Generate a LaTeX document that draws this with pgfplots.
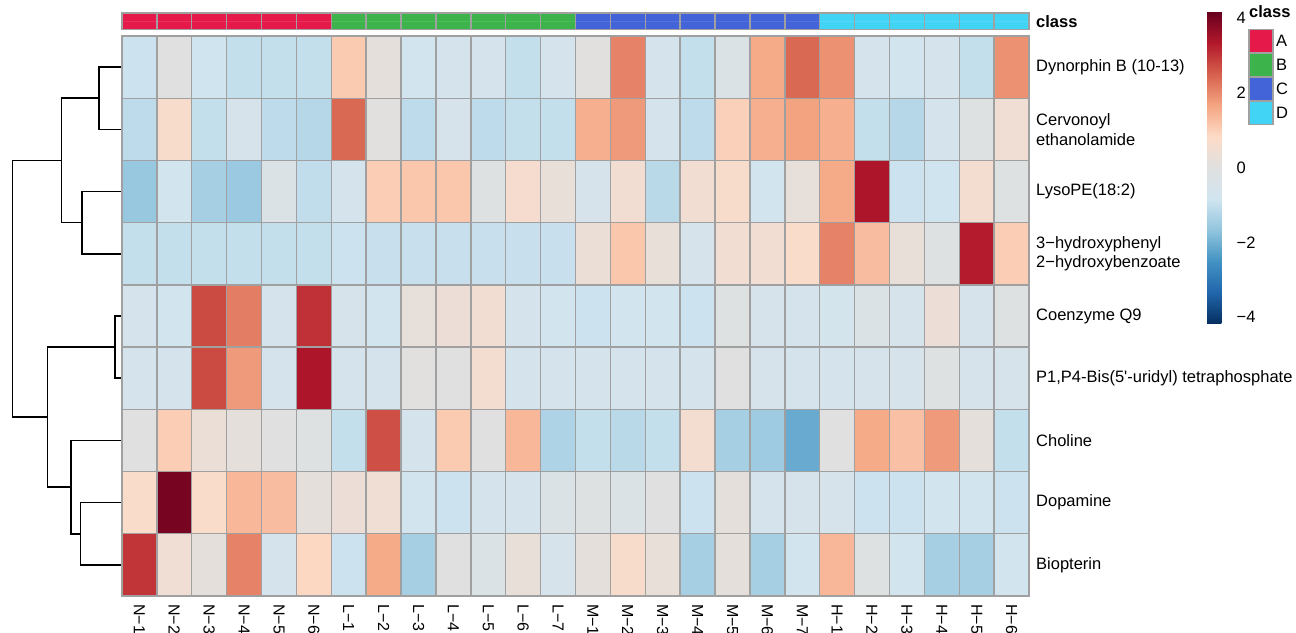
\documentclass[border=0pt]{standalone}
\usepackage{fontspec}
\setmainfont{Liberation Sans}
\usepackage{pgfplots}
\pgfplotsset{compat=1.18}
\definecolor{gridgray}{HTML}{A0A0A0}
\newcommand\lbl{\fontsize{16.5}{19.5}\selectfont}
\newcommand\clbl{\fontsize{16}{18}\selectfont}
\pgfplotsset{
 colormap={rdbu}{rgb255=(5,48,97) rgb255=(33,102,172) rgb255=(67,147,195) rgb255=(146,197,222) rgb255=(209,229,240) rgb255=(224,224,224) rgb255=(253,219,199) rgb255=(244,165,130) rgb255=(214,96,77) rgb255=(178,24,43) rgb255=(103,0,31)},
 colormap={classes}{rgb255=(230,25,75) rgb255=(60,180,75) rgb255=(67,99,216) rgb255=(66,212,244)},
 cellgrid/.style={axis on top, axis line style={gridgray, line width=1.4pt}, minor grid style={gridgray, line width=1.4pt}, major tick length=0pt, minor tick length=0pt, enlargelimits=false},
}
\begin{document}
\begin{tikzpicture}
\path[use as bounding box] (0pt,0pt) rectangle (1296pt,-632pt);
% dendrogram
\begin{axis}[at={(0pt,-596pt)}, anchor=south west, scale only axis, width=122pt, height=560pt,
  xmin=0, xmax=122, ymin=36, ymax=596, y dir=reverse, hide axis, clip=false]
\addplot[black, line width=1.5pt, mark=none] coordinates {(122,67.1) (99,67.1) (99,129.3) (122,129.3)};
\addplot[black, line width=1.5pt, mark=none] coordinates {(122,191.6) (82,191.6) (82,253.8) (122,253.8)};
\addplot[black, line width=1.5pt, mark=none] coordinates {(99,98.2) (61.7,98.2) (61.7,222.7) (82,222.7)};
\addplot[black, line width=1.5pt, mark=none] coordinates {(122,316) (115,316) (115,378.2) (122,378.2)};
\addplot[black, line width=1.5pt, mark=none] coordinates {(122,502.7) (80.7,502.7) (80.7,564.9) (122,564.9)};
\addplot[black, line width=1.5pt, mark=none] coordinates {(122,440.4) (71,440.4) (71,533.8) (80.7,533.8)};
\addplot[black, line width=1.5pt, mark=none] coordinates {(115,347.1) (47.3,347.1) (47.3,487.1) (71,487.1)};
\addplot[black, line width=1.5pt, mark=none] coordinates {(61.7,160.45) (12.7,160.45) (12.7,417.1) (47.3,417.1)};
\end{axis}
% class annotation bar
\begin{axis}[cellgrid, colormap name=classes, at={(122pt,-29.5pt)}, anchor=south west, scale only axis,
  width=907pt, height=16.5pt, xmin=-0.5, xmax=25.5, ymin=-0.5, ymax=1.5,
  point meta min=0, point meta max=3, xtick={0,...,25}, xticklabel style={opacity=0, text opacity=0}, ytick={0.5}, yticklabels={\textbf{class}},
  yticklabel pos=right, yticklabel style={anchor=west, inner sep=0pt, font=\lbl}, yticklabel shift=7pt,
  minor xtick={-0.5,0.5,...,25.5}, xminorgrids=true]
\addplot[matrix plot*, mesh/cols=26, point meta=explicit] coordinates {
(0,0)[0] (1,0)[0] (2,0)[0] (3,0)[0] (4,0)[0] (5,0)[0] (6,0)[1] (7,0)[1] (8,0)[1] (9,0)[1] (10,0)[1] (11,0)[1] (12,0)[1] (13,0)[2] (14,0)[2] (15,0)[2] (16,0)[2] (17,0)[2] (18,0)[2] (19,0)[2] (20,0)[3] (21,0)[3] (22,0)[3] (23,0)[3] (24,0)[3] (25,0)[3]
(0,1)[0] (1,1)[0] (2,1)[0] (3,1)[0] (4,1)[0] (5,1)[0] (6,1)[1] (7,1)[1] (8,1)[1] (9,1)[1] (10,1)[1] (11,1)[1] (12,1)[1] (13,1)[2] (14,1)[2] (15,1)[2] (16,1)[2] (17,1)[2] (18,1)[2] (19,1)[2] (20,1)[3] (21,1)[3] (22,1)[3] (23,1)[3] (24,1)[3] (25,1)[3]
};
\end{axis}
% class legend
\begin{axis}[cellgrid, colormap name=classes, at={(1249pt,-124.7pt)}, anchor=south west, scale only axis,
  width=24pt, height=95.4pt, xmin=-0.5, xmax=1.5, ymin=-0.5, ymax=3.5, y dir=reverse,
  point meta min=0, point meta max=3, xtick=\empty, ytick={0,1,2,3}, yticklabels={A,B,C,D},
  yticklabel pos=right, yticklabel style={anchor=west, inner sep=0pt, font=\lbl}, yticklabel shift=3pt,
  minor ytick={-0.5,0.5,...,3.5}, yminorgrids=true,
  title={class}, title style={at={(0,1)}, anchor=base west, inner sep=0pt, font=\lbl\bfseries, yshift=6pt}]
\addplot[matrix plot*, mesh/cols=2, point meta=explicit] coordinates {
(0,0)[0] (1,0)[0] (0,1)[1] (1,1)[1] (0,2)[2] (1,2)[2] (0,3)[3] (1,3)[3]
};
\end{axis}
% heatmap
\begin{axis}[cellgrid, colormap name=rdbu, at={(122pt,-596pt)}, anchor=south west, scale only axis,
  width=907pt, height=560pt, xmin=-0.5, xmax=25.5, ymin=-0.5, ymax=8.5, y dir=reverse,
  point meta min=-4.17, point meta max=4.17,
  xtick={0,...,25},
  xticklabels={N−1,N−2,N−3,N−4,N−5,N−6,L−1,L−2,L−3,L−4,L−5,L−6,L−7,M−1,M−2,M−3,M−4,M−5,M−6,M−7,H−1,H−2,H−3,H−4,H−5,H−6},
  xticklabel style={rotate=-90, anchor=west, inner sep=0pt, font=\clbl}, xticklabel shift=8pt,
  ytick={0,...,8},
  yticklabels={{Dynorphin B (10-13)},{Cervonoyl\\ethanolamide},{LysoPE(18:2)},{3−hydroxyphenyl\\2−hydroxybenzoate},{Coenzyme Q9},{P1,P4-Bis(5\textquotesingle-uridyl) tetraphosphate},{Choline},{Dopamine},{Biopterin}},
  yticklabel pos=right, yticklabel style={anchor=west, align=left, inner sep=0pt, font=\lbl}, yticklabel shift=7pt,
  minor xtick={-0.5,0.5,...,25.5}, minor ytick={-0.5,0.5,...,8.5}, xminorgrids=true, yminorgrids=true,
  colorbar,
  colorbar style={at={(parent axis.north east)}, anchor=north west, xshift=169.7pt, yshift=24.3pt,
    scale only axis, width=21.3pt, height=311.6pt, y dir=normal,
    ytick={-4,-2,0,2,4}, yticklabels={−4,−2,0,2,4},
    yticklabel style={anchor=west, inner sep=0pt, font=\lbl}, yticklabel shift=8pt,
    major tick length=0pt, axis line style={draw=none}}]
\addplot[matrix plot*, mesh/cols=26, point meta=explicit] coordinates {
(0,0)[-0.9] (1,0)[0] (2,0)[-0.85] (3,0)[-1] (4,0)[-1] (5,0)[-1] (6,0)[1.1] (7,0)[0.15] (8,0)[-0.8] (9,0)[-0.6] (10,0)[-0.6] (11,0)[-1] (12,0)[-0.6] (13,0)[0.05] (14,0)[2.1] (15,0)[-0.6] (16,0)[-1] (17,0)[-0.3] (18,0)[1.6] (19,0)[2.4] (20,0)[1.9] (21,0)[-0.6] (22,0)[-0.8] (23,0)[-0.6] (24,0)[-1] (25,0)[1.9]
(0,1)[-1.1] (1,1)[0.7] (2,1)[-1] (3,1)[-0.5] (4,1)[-1.1] (5,1)[-1.2] (6,1)[2.4] (7,1)[0.05] (8,1)[-1.1] (9,1)[-0.5] (10,1)[-1.1] (11,1)[-1] (12,1)[-1] (13,1)[1.5] (14,1)[1.8] (15,1)[-0.6] (16,1)[-1.1] (17,1)[1] (18,1)[1.5] (19,1)[1.7] (20,1)[1.5] (21,1)[-1] (22,1)[-1.2] (23,1)[-0.6] (24,1)[-0.1] (25,1)[0.45]
(0,2)[-1.6] (1,2)[-0.8] (2,2)[-1.4] (3,2)[-1.55] (4,2)[-0.25] (5,2)[-1.05] (6,2)[-0.6] (7,2)[1.05] (8,2)[1.15] (9,2)[1.15] (10,2)[-0.1] (11,2)[0.6] (12,2)[0.25] (13,2)[-0.5] (14,2)[0.5] (15,2)[-1.15] (16,2)[0.5] (17,2)[0.7] (18,2)[-0.8] (19,2)[0.2] (20,2)[1.6] (21,2)[3.4] (22,2)[-0.9] (23,2)[-0.85] (24,2)[0.55] (25,2)[-0.1]
(0,3)[-1] (1,3)[-1] (2,3)[-1] (3,3)[-1] (4,3)[-1] (5,3)[-1] (6,3)[-0.9] (7,3)[-0.95] (8,3)[-0.95] (9,3)[-0.95] (10,3)[-0.95] (11,3)[-0.95] (12,3)[-0.95] (13,3)[0.3] (14,3)[1.15] (15,3)[0.25] (16,3)[-0.5] (17,3)[0.5] (18,3)[0.5] (19,3)[0.75] (20,3)[2.1] (21,3)[1.3] (22,3)[0.25] (23,3)[-0.1] (24,3)[3.3] (25,3)[1.05]
(0,4)[-0.6] (1,4)[-0.8] (2,4)[2.75] (3,4)[2.15] (4,4)[-0.6] (5,4)[3.05] (6,4)[-0.5] (7,4)[-0.8] (8,4)[0.2] (9,4)[0.35] (10,4)[0.5] (11,4)[-0.6] (12,4)[-0.8] (13,4)[-0.9] (14,4)[-0.8] (15,4)[-0.8] (16,4)[-0.9] (17,4)[-0.1] (18,4)[-0.5] (19,4)[-0.6] (20,4)[-0.65] (21,4)[-0.3] (22,4)[-0.5] (23,4)[0.35] (24,4)[-0.5] (25,4)[-0.1]
(0,5)[-0.6] (1,5)[-0.6] (2,5)[2.75] (3,5)[1.8] (4,5)[-0.6] (5,5)[3.4] (6,5)[-0.6] (7,5)[-0.6] (8,5)[0.05] (9,5)[0] (10,5)[0.55] (11,5)[-0.6] (12,5)[-0.6] (13,5)[-0.6] (14,5)[-0.6] (15,5)[-0.6] (16,5)[-0.6] (17,5)[0] (18,5)[-0.5] (19,5)[-0.6] (20,5)[-0.6] (21,5)[-0.5] (22,5)[-0.5] (23,5)[-0.1] (24,5)[-0.5] (25,5)[-0.5]
(0,6)[0] (1,6)[1.05] (2,6)[0.3] (3,6)[0.15] (4,6)[0] (5,6)[-0.1] (6,6)[-1] (7,6)[2.7] (8,6)[-0.6] (9,6)[1.1] (10,6)[0] (11,6)[1.4] (12,6)[-1.3] (13,6)[-1] (14,6)[-1.15] (15,6)[-1] (16,6)[0.55] (17,6)[-1.4] (18,6)[-1.5] (19,6)[-2.1] (20,6)[0] (21,6)[1.6] (22,6)[1.25] (23,6)[1.8] (24,6)[0.15] (25,6)[-1]
(0,7)[0.75] (1,7)[4] (2,7)[0.75] (3,7)[1.4] (4,7)[1.3] (5,7)[0.15] (6,7)[0.35] (7,7)[0.45] (8,7)[-0.8] (9,7)[-0.9] (10,7)[-0.6] (11,7)[-0.6] (12,7)[-0.3] (13,7)[-0.1] (14,7)[-0.3] (15,7)[0] (16,7)[-0.9] (17,7)[0.15] (18,7)[-0.6] (19,7)[-0.5] (20,7)[-0.5] (21,7)[-0.9] (22,7)[-0.9] (23,7)[-0.8] (24,7)[-0.8] (25,7)[-0.9]
(0,8)[3] (1,8)[0.45] (2,8)[0.15] (3,8)[2.1] (4,8)[-0.6] (5,8)[0.9] (6,8)[-0.9] (7,8)[1.6] (8,8)[-1.4] (9,8)[0] (10,8)[-0.3] (11,8)[0.25] (12,8)[-0.5] (13,8)[0.15] (14,8)[0.7] (15,8)[0.25] (16,8)[-1.4] (17,8)[0.15] (18,8)[-1.4] (19,8)[-0.8] (20,8)[1.4] (21,8)[-0.1] (22,8)[-0.8] (23,8)[-1.4] (24,8)[-1.4] (25,8)[-0.8]
};
\end{axis}
\end{tikzpicture}
\end{document}
